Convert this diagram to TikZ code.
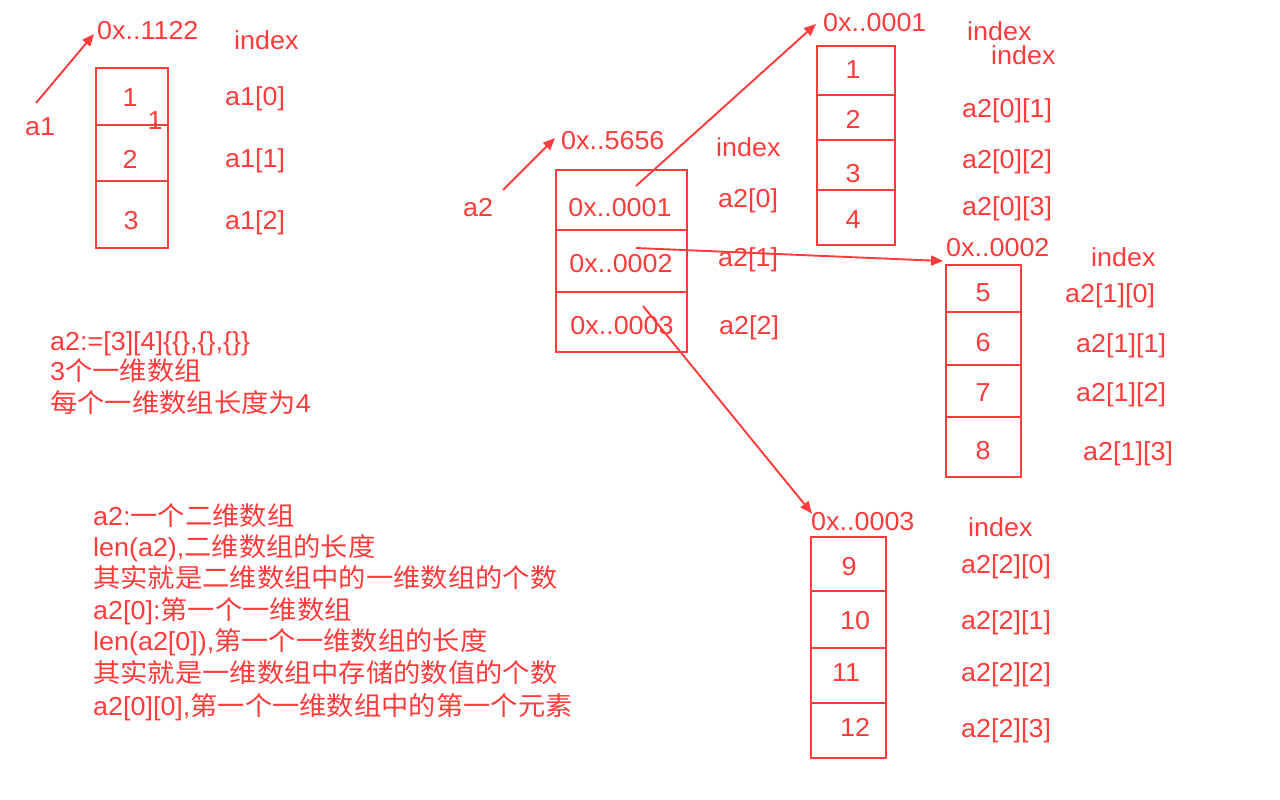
\documentclass[tikz,border=0pt]{standalone}
\usepackage{fontspec}
\setmainfont{Liberation Sans}[FakeStretch=1.035]
\newfontfamily\cjk{Noto Sans CJK SC}[FakeStretch=1.05]
\usetikzlibrary{arrows.meta}
\definecolor{rd}{RGB}{255,59,59}
\begin{document}
\begin{tikzpicture}[x=1pt,y=-1pt,
  every node/.style={font=\fontsize{26}{30}\selectfont, text=rd},
  txt/.style={anchor=west, inner sep=0pt, text height=18.7pt, text depth=0pt},
  num/.style={anchor=center, inner sep=0pt, text height=18.7pt, text depth=0pt},
  cell/.style={draw=rd, line width=1.9pt, inner sep=0pt},
  arr/.style={draw=rd, line width=1.9pt, -{Triangle[length=12pt,width=10pt]}}]
\fill[white] (0,0) rectangle (1280,800);
\useasboundingbox (0,0) rectangle (1280,800);

% ---------- a1 ----------
\node[txt] (a1lbl) at (25,126) {a1};
\node[txt] (addr1) at (97,30) {0x..1122};
\node[txt] (idx1) at (234,40) {index};
\node[cell, minimum width=72pt, minimum height=57pt] (a1c0) at (132,96.5) {};
\node[cell, minimum width=72pt, minimum height=56pt] (a1c1) at (132,153) {};
\node[cell, minimum width=72pt, minimum height=67pt] (a1c2) at (132,214.5) {};
\node[num] (n1) at (130,97) {1};
\node[num] (n1x) at (155,120) {1};
\node[num] (n2) at (130,159) {2};
\node[num] (n3) at (131,220) {3};
\node[txt] (a1i0) at (225,96) {a1[0]};
\node[txt] (a1i1) at (225,158) {a1[1]};
\node[txt] (a1i2) at (225,220) {a1[2]};
\coordinate (a1tail) at (36,103);
\draw[arr] (a1tail) -- ([xshift=-3pt,yshift=-4pt]addr1.west);

% ---------- a2 ----------
\node[txt] (a2lbl) at (463,207) {a2};
\node[txt] (addr2) at (561,140) {0x..5656};
\node[txt] (idx2) at (716,147) {index};
\node[cell, minimum width=131pt, minimum height=60pt] (a2c0) at (621.5,200) {};
\node[cell, minimum width=131pt, minimum height=62pt] (a2c1) at (621.5,261) {};
\node[cell, minimum width=131pt, minimum height=60pt] (a2c2) at (621.5,322) {};
\node[num] (p1) at (620,207) {0x..0001};
\node[num] (p2) at (621,263) {0x..0002};
\node[num] (p3) at (622,325) {0x..0003};
\node[txt] (a2i0) at (718,198) {a2[0]};
\node[txt] (a2i1) at (718,257) {a2[1]};
\node[txt] (a2i2) at (719,325) {a2[2]};
\coordinate (a2tail) at (503,190);
\draw[arr] (a2tail) -- ([xshift=-6pt,yshift=2pt]addr2.west);

% ---------- b0 ----------
\node[txt] (addrb0) at (823,22) {0x..0001};
\node[txt] (idxb0a) at (967,31) {index};
\node[txt] (idxb0b) at (991,55) {index};
\node[cell, minimum width=78pt, minimum height=49pt] (b0c0) at (856,70.5) {};
\node[cell, minimum width=78pt, minimum height=45pt] (b0c1) at (856,117.5) {};
\node[cell, minimum width=78pt, minimum height=50pt] (b0c2) at (856,165) {};
\node[cell, minimum width=78pt, minimum height=55pt] (b0c3) at (856,217.5) {};
\node[num] at (853,69) {1};
\node[num] at (853,119) {2};
\node[num] at (853,173) {3};
\node[num] at (853,219) {4};
\node[txt] (b0i1) at (962,108) {a2[0][1]};
\node[txt] (b0i2) at (962,159) {a2[0][2]};
\node[txt] (b0i3) at (962,206) {a2[0][3]};

% ---------- b1 ----------
\node[txt] (addrb1) at (946,247) {0x..0002};
\node[txt] (idxb1) at (1091,257) {index};
\node[cell, minimum width=75pt, minimum height=47pt] (b1c0) at (983.5,288.5) {};
\node[cell, minimum width=75pt, minimum height=53pt] (b1c1) at (983.5,338.5) {};
\node[cell, minimum width=75pt, minimum height=52pt] (b1c2) at (983.5,391) {};
\node[cell, minimum width=75pt, minimum height=60pt] (b1c3) at (983.5,447) {};
\node[num] at (983,292) {5};
\node[num] at (983,342) {6};
\node[num] at (983,392) {7};
\node[num] at (983,450) {8};
\node[txt] (b1i0) at (1065,293) {a2[1][0]};
\node[txt] (b1i1) at (1076,343) {a2[1][1]};
\node[txt] (b1i2) at (1076,392) {a2[1][2]};
\node[txt] (b1i3) at (1083,451) {a2[1][3]};

% ---------- b2 ----------
\node[txt] (addrb2) at (811,521) {0x..0003};
\node[txt] (idxb2) at (968,527) {index};
\node[cell, minimum width=75pt, minimum height=54pt] (b2c0) at (848.5,564) {};
\node[cell, minimum width=75pt, minimum height=57pt] (b2c1) at (848.5,619.5) {};
\node[cell, minimum width=75pt, minimum height=55pt] (b2c2) at (848.5,675.5) {};
\node[cell, minimum width=75pt, minimum height=55pt] (b2c3) at (848.5,730.5) {};
\node[num] at (849,566) {9};
\node[num] at (855,620) {10};
\node[num] at (846,672) {11};
\node[num] at (855,727) {12};
\node[txt] (b2i0) at (961,564) {a2[2][0]};
\node[txt] (b2i1) at (961,620) {a2[2][1]};
\node[txt] (b2i2) at (961,672) {a2[2][2]};
\node[txt] (b2i3) at (961,728) {a2[2][3]};

% ---------- pointers ----------
\coordinate (t0) at (636,186);
\coordinate (t1) at (636,248);
\coordinate (t2) at (643,306);
\draw[arr] (t0) -- ([xshift=-7pt,yshift=-2pt]addrb0.west);
\draw[arr] (t1) -- ([xshift=-2pt,yshift=3pt]b1c0.north west);
\draw[arr] (t2) -- ([xshift=1pt,yshift=-2pt]addrb2.north west);

% ---------- notes ----------
\node[txt] (m1) at (50,341) {a2:=[3][4]\{\{\},\{\},\{\}\}};
\node[txt] (m2) at (50,371) {3{\cjk 个一维数组}};
\node[txt] (m3) at (50,403) {{\cjk 每个一维数组长度为}4};

\node[txt] (l1) at (93,516) {a2:{\cjk 一个二维数组}};
\node[txt] (l2) at (93,547) {len(a2),{\cjk 二维数组的长度}};
\node[txt] (l3) at (93,578) {{\cjk 其实就是二维数组中的一维数组的个数}};
\node[txt] (l4) at (93,610) {a2[0]:{\cjk 第一个一维数组}};
\node[txt] (l5) at (93,641) {len(a2[0]),{\cjk 第一个一维数组的长度}};
\node[txt] (l6) at (93,673) {{\cjk 其实就是一维数组中存储的数值的个数}};
\node[txt] (l7) at (93,706) {a2[0][0],{\cjk 第一个一维数组中的第一个元素}};
\end{tikzpicture}
\end{document}
